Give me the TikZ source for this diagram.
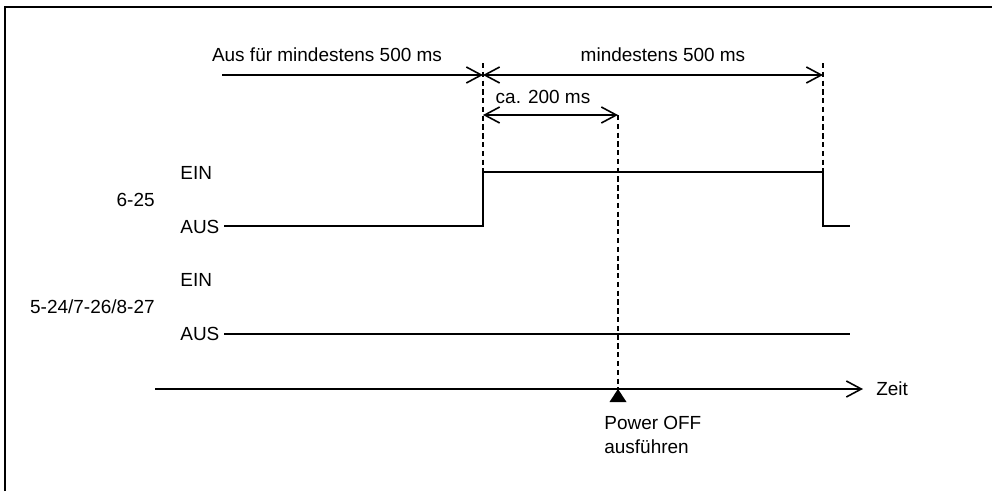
\documentclass[tikz,border=0pt]{standalone}
\usepackage{fontspec}
\setmainfont{Liberation Sans}
\usetikzlibrary{arrows.meta}
\begin{document}
\begin{tikzpicture}[x=0.02cm, y=-0.02cm,
    lbl/.style={font=\fontsize{10.8}{13.6}\selectfont, inner sep=0pt},
    sig/.style={line width=0.9pt},
    guide/.style={line width=0.8pt, dash pattern=on 3pt off 2pt},
    dim/.style={line width=0.9pt, -{Straight Barb[length=3mm, width=3.2mm]}},
    ddim/.style={line width=0.9pt, {Straight Barb[length=3mm, width=3.2mm]}-{Straight Barb[length=3mm, width=3.2mm]}}
]
\useasboundingbox (0,0) rectangle (992,491);
\draw[line width=1.4pt] (5,491) -- (5,7) -- (992,7);

% Zeitpunkte
\coordinate (start) at (222,75);
\coordinate (t0) at (483,75);
\coordinate (t1) at (618,115);
\coordinate (t2) at (823,75);
\coordinate (t0a) at (483,115);
\coordinate (t0top) at (483,63);
\coordinate (t2top) at (823,63);

% Signal 6-25
\coordinate (a0) at (224,226);
\coordinate (a1) at (483,226);
\coordinate (a2) at (483,172);
\coordinate (a3) at (823,172);
\coordinate (a4) at (823,226);
\coordinate (a5) at (850,226);

% Signal 5-24/7-26/8-27
\coordinate (b0) at (224,334);
\coordinate (b1) at (850,334);

% Zeitachse
\coordinate (z0) at (155,389);
\coordinate (z1) at (863,389);
\coordinate (off) at (618,389);

\node[lbl] (aus500) at (327,55) {Aus für mindestens 500 ms};
\node[lbl] (min500) at (663,55) {mindestens 500 ms};
\node[lbl] (ca200) at (543,97) {ca. 200 ms};

\node[lbl, anchor=west] (ein1) at (180,173) {EIN};
\node[lbl, anchor=west] (aus1) at (180,227) {AUS};
\node[lbl, anchor=east] (sig1) at (155,200) {6-25};
\node[lbl, anchor=west] (ein2) at (180,280) {EIN};
\node[lbl, anchor=west] (aus2) at (180,334) {AUS};
\node[lbl, anchor=east] (sig2) at (155,307) {5-24/7-26/8-27};

\node[lbl, anchor=west] (zeit) at (876,389) {Zeit};
\node[lbl, anchor=north west, align=left] (power) at (604,416) {Power OFF\\ausführen};

\draw[guide] (t0top) -- (a2);
\draw[guide] (t2top) -- (a3);
\draw[guide] (t1) -- (off);

\draw[dim] (start) -- (t0);
\draw[ddim] (t0) -- (t2);
\draw[ddim] (t0a) -- (t1);

\draw[sig] (a0) -- (a1) -- (a2) -- (a3) -- (a4) -- (a5);
\draw[sig] (b0) -- (b1);
\draw[dim] (z0) -- (z1);

\fill (off) -- ++(-8.5,13) -- ++(17,0) -- cycle;
\end{tikzpicture}
\end{document}
